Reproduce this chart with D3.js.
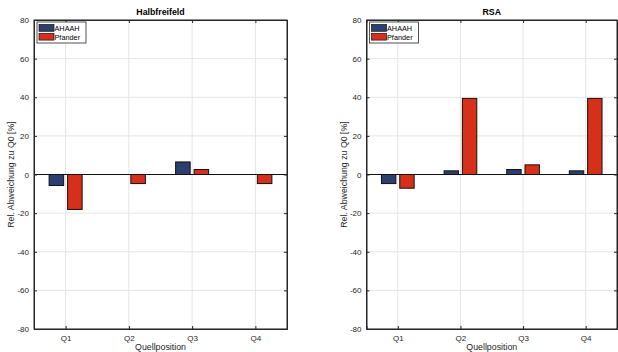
<!DOCTYPE html>
<html>
<head>
<meta charset="utf-8">
<script src="https://cdn.jsdelivr.net/npm/d3@7"></script>
<style>
  body { margin: 0; background: #fff; }
  svg { display: block; font-family: "Liberation Sans", Arial, sans-serif; }
</style>
</head>
<body>
<svg id="chart" width="618" height="352"></svg>
<script>
const categories = ['Q1', 'Q2', 'Q3', 'Q4'];
const seriesNames = ['AHAAH', 'Pfander'];
const colors = ['#2d3f6f', '#d7301a'];
const yTicks = [-80, -60, -40, -20, 0, 20, 40, 60, 80];

const halbAHAAH = [-5.7, 0, 6.5, 0];
const halbPfander = [-18.1, -4.7, 2.6, -4.7];
const rsaAHAAH = [-4.7, 1.9, 2.6, 1.9];
const rsaPfander = [-7.1, 39.4, 5.0, 39.4];

const panels = [
  {title: 'Halbfreifeld', left: 34, right: 287, series: [halbAHAAH, halbPfander]},
  {title: 'RSA', left: 366.5, right: 617, series: [rsaAHAAH, rsaPfander]}
];

const svg = d3.select('#chart');
const yTop = 20, yBottom = 329;

const y = d3.scaleLinear().domain([-80, 80]).range([yBottom, yTop]);

panels.forEach(function(p) {
  const g = svg.append('g');
  const x = d3.scaleLinear().domain([0.5, 4.5]).range([p.left, p.right]);
  const step = x(2) - x(1);
  const bw = step * 0.23;
  const off = step * 0.146;

  // grid
  g.selectAll('.gy').data(yTicks).enter().append('line')
    .attr('x1', p.left).attr('x2', p.right)
    .attr('y1', d => y(d)).attr('y2', d => y(d))
    .attr('stroke', '#e4e4e4').attr('stroke-width', 1);
  g.selectAll('.gx').data(categories).enter().append('line')
    .attr('x1', (d, i) => x(i + 1)).attr('x2', (d, i) => x(i + 1))
    .attr('y1', yTop).attr('y2', yBottom)
    .attr('stroke', '#e4e4e4').attr('stroke-width', 1);

  // bars
  p.series.forEach(function(vals, s) {
    g.selectAll('.b' + s).data(vals).enter().append('rect')
      .attr('x', (d, i) => x(i + 1) + (s === 0 ? -off : off) - bw / 2)
      .attr('width', bw)
      .attr('y', d => y(Math.max(0, d)))
      .attr('height', d => Math.abs(y(d) - y(0)))
      .attr('fill', colors[s])
      .attr('stroke', '#111').attr('stroke-width', 1);
  });

  // baseline
  g.append('line').attr('x1', p.left).attr('x2', p.right)
    .attr('y1', y(0)).attr('y2', y(0))
    .attr('stroke', '#111').attr('stroke-width', 1);

  // axes
  const yAxis = d3.axisLeft(y).tickValues(yTicks).tickFormat(d => String(d)).tickSize(-3).tickPadding(5);
  const yg = g.append('g').attr('transform', `translate(${p.left},0)`).call(yAxis);
  const yAxisR = d3.axisRight(y).tickValues(yTicks).tickSize(-3).tickFormat('');
  const ygr = g.append('g').attr('transform', `translate(${p.right},0)`).call(yAxisR);
  const xAxis = d3.axisBottom(x).tickValues([1, 2, 3, 4]).tickFormat(d => categories[d - 1]).tickSize(-3).tickPadding(6);
  const xg = g.append('g').attr('transform', `translate(0,${yBottom})`).call(xAxis);
  const xAxisT = d3.axisTop(x).tickValues([1, 2, 3, 4]).tickSize(-3).tickFormat('');
  const xgt = g.append('g').attr('transform', `translate(0,${yTop})`).call(xAxisT);

  [yg, ygr, xg, xgt].forEach(function(a) {
    a.attr('font-family', null);
    a.select('.domain').attr('stroke', '#262626').attr('stroke-width', 1);
    a.selectAll('.tick line').attr('stroke', '#262626');
    a.selectAll('.tick text').attr('fill', '#262626').attr('font-size', 8);
  });
  g.append('rect').attr('x', p.left).attr('y', yTop)
    .attr('width', p.right - p.left).attr('height', yBottom - yTop)
    .attr('fill', 'none').attr('stroke', '#262626').attr('stroke-width', 1);

  // title
  g.append('text').attr('x', (p.left + p.right) / 2).attr('y', 15)
    .attr('text-anchor', 'middle').attr('font-size', 8.8).attr('font-weight', 'bold')
    .attr('fill', '#000').text(p.title);

  // axis labels
  g.append('text').attr('x', (p.left + p.right) / 2).attr('y', 350)
    .attr('text-anchor', 'middle').attr('font-size', 8.8).attr('fill', '#262626')
    .text('Quellposition');
  g.append('text')
    .attr('transform', `translate(${p.left - 20},${(yTop + yBottom) / 2}) rotate(-90)`)
    .attr('text-anchor', 'middle').attr('font-size', 8.8).attr('fill', '#262626')
    .text('Rel. Abweichung zu Q0 [%]');

  // legend
  const lg = g.append('g').attr('transform', `translate(${p.left + 3},${yTop + 2})`);
  lg.append('rect').attr('width', 49).attr('height', 21)
    .attr('fill', '#fff').attr('stroke', '#262626').attr('stroke-width', 0.8);
  seriesNames.forEach(function(n, i) {
    lg.append('rect').attr('x', 2).attr('y', 2.5 + i * 8.8).attr('width', 15).attr('height', 6.8)
      .attr('fill', colors[i]).attr('stroke', '#111').attr('stroke-width', 0.7);
    lg.append('text').attr('x', 17.5).attr('y', 8.7 + i * 8.8)
      .attr('font-size', 7.3).attr('fill', '#000').text(n);
  });
});
</script>
</body>
</html>
